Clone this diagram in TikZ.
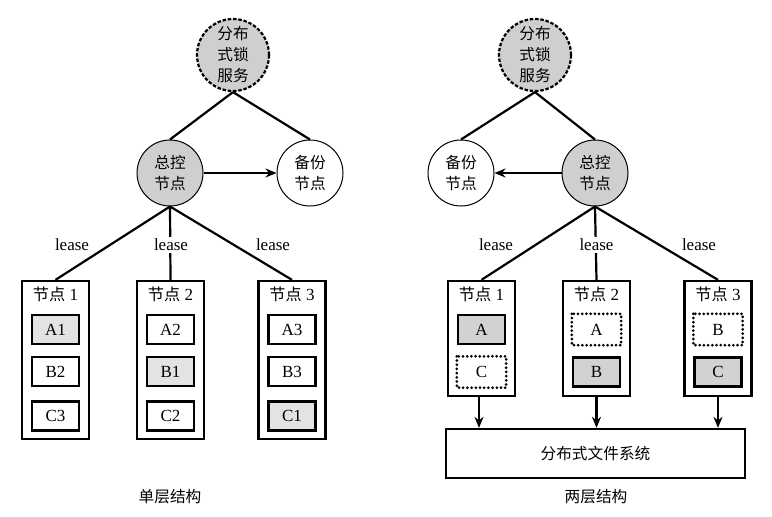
\documentclass[tikz,border=0pt]{standalone}
\usepackage{fontspec}
\setmainfont{Liberation Serif}
\newfontfamily\cjk{Noto Sans CJK SC}[Scale=0.95]
\usetikzlibrary{arrows.meta}
\begin{document}
\begin{tikzpicture}[x=1pt,y=-1pt,
  cjkfont/.style={font=\cjk\fontsize{16.5}{21}\selectfont},
  lockc/.style={circle, draw, line width=2.2pt, dash pattern=on 3.5pt off 1.8pt, fill=gray!38, minimum size=72pt, inner sep=0pt, align=center, cjkfont},
  roundn/.style={circle, draw, line width=1pt, minimum size=66pt, inner sep=0pt, align=center, cjkfont},
  masterc/.style={roundn, fill=gray!38},
  outerbox/.style={draw, line width=2.3pt, minimum width=67pt, inner sep=0pt},
  innerbox/.style={draw, line width=2.4pt, minimum width=47pt, minimum height=29pt, inner sep=0pt, font=\fontsize{17}{19}\selectfont},
  grayin/.style={innerbox, fill=gray!22},
  grayin2/.style={innerbox, fill=gray!35},
  dotbox/.style={innerbox, draw=none},
  titlen/.style={font=\fontsize{17}{19}\selectfont, inner sep=1pt},
  leasen/.style={font=\fontsize{17}{19}\selectfont, inner sep=2pt},
  conn/.style={line width=2.2pt},
  arr/.style={line width=2.2pt, -{Stealth[length=11pt,width=9pt]}},
  capt/.style={cjkfont}
]
\useasboundingbox (0,0) rectangle (772,517);

% ---------------- left: single layer ----------------
\node[lockc] (lockL) at (233,55) {分布\\式锁\\服务};
\node[masterc] (masterL) at (170,173) {总控\\节点};
\node[roundn] (backupL) at (310,173) {备份\\节点};

\draw[conn] (lockL.south) -- (masterL.north);
\draw[conn] (lockL.south) -- (backupL.north);
\draw[arr] (masterL.east) -- (backupL.west);

\node[outerbox, minimum height=158pt] (boxL1) at (55.5,360) {};
\node[outerbox, minimum height=158pt] (boxL2) at (170.5,360) {};
\node[outerbox, minimum height=158pt] (boxL3) at (292,360) {};

\node[titlen] (tL1) at (55.5,294) {{\cjk 节点} 1};
\node[titlen] (tL2) at (170.5,294) {{\cjk 节点} 2};
\node[titlen] (tL3) at (292,294) {{\cjk 节点} 3};

\node[grayin] (aL1) at (55.5,329.5) {A1};
\node[innerbox] (bL1) at (55.5,371.5) {B2};
\node[innerbox] (cL1) at (55.5,416) {C3};
\node[innerbox] (aL2) at (170.5,329.5) {A2};
\node[grayin] (bL2) at (170.5,371.5) {B1};
\node[innerbox] (cL2) at (170.5,416) {C2};
\node[innerbox] (aL3) at (292,329.5) {A3};
\node[innerbox] (bL3) at (292,371.5) {B3};
\node[grayin] (cL3) at (292,416) {C1};

\draw[conn] (masterL.south) -- (boxL1.north);
\draw[conn] (masterL.south) -- (boxL2.north);
\draw[conn] (masterL.south) -- (boxL3.north);

\node[leasen] (lL1) at (72,245) {lease};
\node[leasen, fill=white] (lL2) at (171,245) {lease};
\node[leasen] (lL3) at (273,245) {lease};

\node[capt] (captL) at (170,497) {单层结构};

% ---------------- right: two layers ----------------
\node[lockc] (lockR) at (535,55) {分布\\式锁\\服务};
\node[masterc] (masterR) at (595,173) {总控\\节点};
\node[roundn] (backupR) at (461,173) {备份\\节点};

\draw[conn] (lockR.south) -- (backupR.north);
\draw[conn] (lockR.south) -- (masterR.north);
\draw[arr] (masterR.west) -- (backupR.east);

\node[outerbox, minimum height=115pt] (boxR1) at (481.5,338.5) {};
\node[outerbox, minimum height=115pt] (boxR2) at (596.5,338.5) {};
\node[outerbox, minimum height=115pt] (boxR3) at (718,338.5) {};

\node[titlen] (tR1) at (481.5,294) {{\cjk 节点} 1};
\node[titlen] (tR2) at (596.5,294) {{\cjk 节点} 2};
\node[titlen] (tR3) at (718,294) {{\cjk 节点} 3};

\node[grayin2] (aR1) at (481.5,329.5) {A};
\node[dotbox] (cR1) at (481.5,372) {C};
\node[dotbox] (aR2) at (596.5,329.5) {A};
\node[grayin2] (bR2) at (596.5,372) {B};
\node[dotbox] (bR3) at (718,329.5) {B};
\node[grayin2] (cR3) at (718,372) {C};

\foreach \n in {cR1,aR2,bR3}{
  \draw[line width=3pt, line cap=round, dash pattern=on 0pt off 4.2pt]
    (\n.north west) rectangle (\n.south east);
}

\draw[conn] (masterR.south) -- (boxR1.north);
\draw[conn] (masterR.south) -- (boxR2.north);
\draw[conn] (masterR.south) -- (boxR3.north);

\node[leasen] (lR1) at (496,245) {lease};
\node[leasen, fill=white] (lR2) at (596.5,245) {lease};
\node[leasen] (lR3) at (699,245) {lease};

\node[draw, line width=2.3pt, minimum width=299pt, minimum height=49pt, inner sep=0pt, cjkfont] (dfs) at (595.5,453.5) {分布式文件系统};

\draw[arr] (boxR1.south -| 479,0) -- (dfs.north -| 479,0);
\draw[arr] (boxR2.south) -- (dfs.north -| boxR2.south);
\draw[arr] (boxR3.south) -- (dfs.north -| boxR3.south);

\node[capt] (captR) at (596,497) {两层结构};
\end{tikzpicture}
\end{document}
